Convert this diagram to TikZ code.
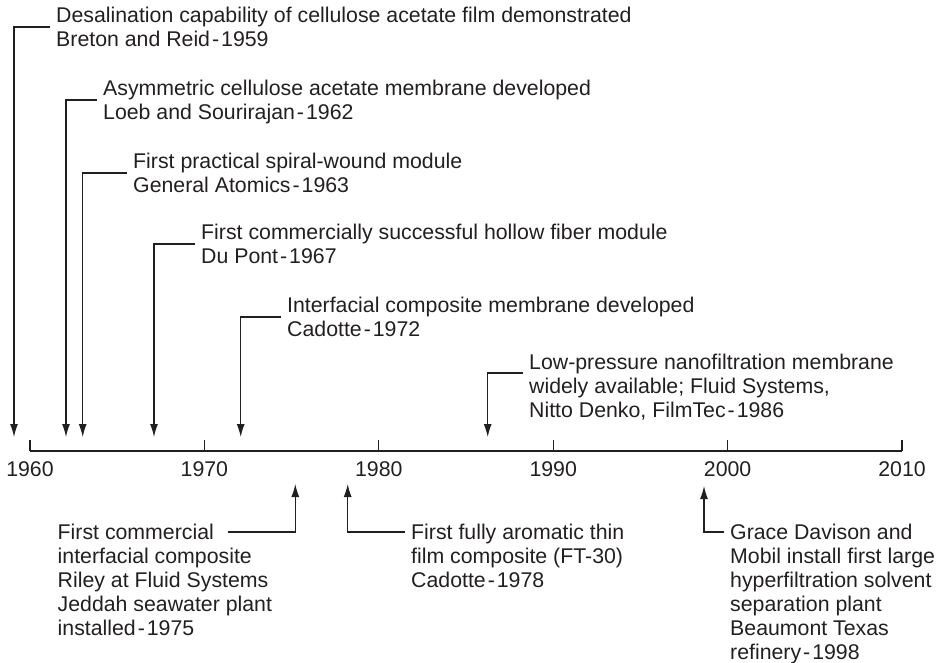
\documentclass[tikz,border=0pt]{standalone}
\usepackage{fontspec}
\setmainfont{Liberation Sans}
\usepackage{tikz}
\usetikzlibrary{arrows.meta,positioning}
\definecolor{ink}{HTML}{231F20}
\newcommand{\ls}{\rule[-4.5pt]{0pt}{24pt}}
\newcommand{\yd}{\kern2pt-\kern2pt}

\begin{document}
\begin{tikzpicture}[x=1pt,y=-1pt,
		lbl/.style={font=\fontsize{21.3}{24}\selectfont, text=ink, align=left, inner xsep=6pt, inner ysep=0pt},
		tl/.style={draw=ink, line width=1.2pt, -{Latex[length=13pt,width=8pt]}},
		yrlbl/.style={lbl, anchor=north}]
		      \useasboundingbox (0,0) rectangle (938,663);

		      % time axis and ticks
		      \draw[ink, line width=1.2pt] (30,451) -- (902,451);
		      \foreach \y in {1960,1970,...,2010} {
		            \draw[ink, line width=1.2pt] ({30+(\y-1960)*17.44},440) -- ({30+(\y-1960)*17.44},451);
		            \node[yrlbl] (y\y) at ({30+(\y-1960)*17.44},457) {\ls\y};
		      }

		      % arrow tips on the axis
		      \coordinate (a59) at (14,437);
		      \coordinate (a62) at (66,437);
		      \coordinate (a63) at (82.7,437);
		      \coordinate (a67) at (154,437);
		      \coordinate (a72) at (240.7,437);
		      \coordinate (a86) at (487.7,437);
		      \coordinate (a75) at (295.3,484);
		      \coordinate (a78) at (347.7,484);
		      \coordinate (a98) at (704,486);

		      % events above the axis
		      \node[lbl, anchor=west] (t59) at (50,27) {\ls Desalination capability of cellulose acetate film demonstrated\\Breton and Reid\yd 1959\ls};
		      \node[lbl, anchor=west] (t62) at (97,100) {\ls Asymmetric cellulose acetate membrane developed\\Loeb and Sourirajan\yd 1962\ls};
		      \node[lbl, anchor=west] (t63) at (127,173) {\ls First practical spiral-wound module\\General Atomics\yd 1963\ls};
		      \node[lbl, anchor=west] (t67) at (195,244) {\ls First commercially successful hollow fiber module\\Du Pont\yd 1967\ls};
		      \node[lbl, anchor=west] (t72) at (281,317) {\ls Interfacial composite membrane developed\\Cadotte\yd 1972\ls};
		      \node[lbl, anchor=north west] (t86) at (523,350) {\ls Low-pressure nanofiltration membrane\\widely available; Fluid Systems,\\Nitto Denko, FilmTec\yd 1986\ls};

		      % events below the axis
		      \node[lbl, anchor=west] (t75) at (51.5,532) {\ls First commercial\ls};
		      \node[lbl, anchor=north west] (t75b) at (t75.south west) {\ls interfacial composite\\Riley at Fluid Systems\\Jeddah seawater plant\\installed\yd 1975\ls};
		      \node[lbl, anchor=north west] (t78) at (405,520) {\ls First fully aromatic thin\\film composite (FT-30)\\Cadotte\yd 1978\ls};
		      \node[lbl, anchor=north west] (t98) at (724,520) {\ls Grace Davison and\\Mobil install first large\\hyperfiltration solvent\\separation plant\\Beaumont Texas\\refinery\yd 1998\ls};

		      \draw[tl] (t59.west) -| (a59);
		      \draw[tl] (t62.west) -| (a62);
		      \draw[tl] (t63.west) -| (a63);
		      \draw[tl] (t67.west) -| (a67);
		      \draw[tl] (t72.west) -| (a72);
		      \draw[tl] ([yshift=-23pt]t86.north west) -| (a86);

		      \draw[tl] ([xshift=8pt]t75.east) -| (a75);
		      \draw[tl] ([yshift=-12pt]t78.north west) -| (a78);
		      \draw[tl] ([yshift=-12pt]t98.north west) -| (a98);

	      \end{tikzpicture}
\end{document}
